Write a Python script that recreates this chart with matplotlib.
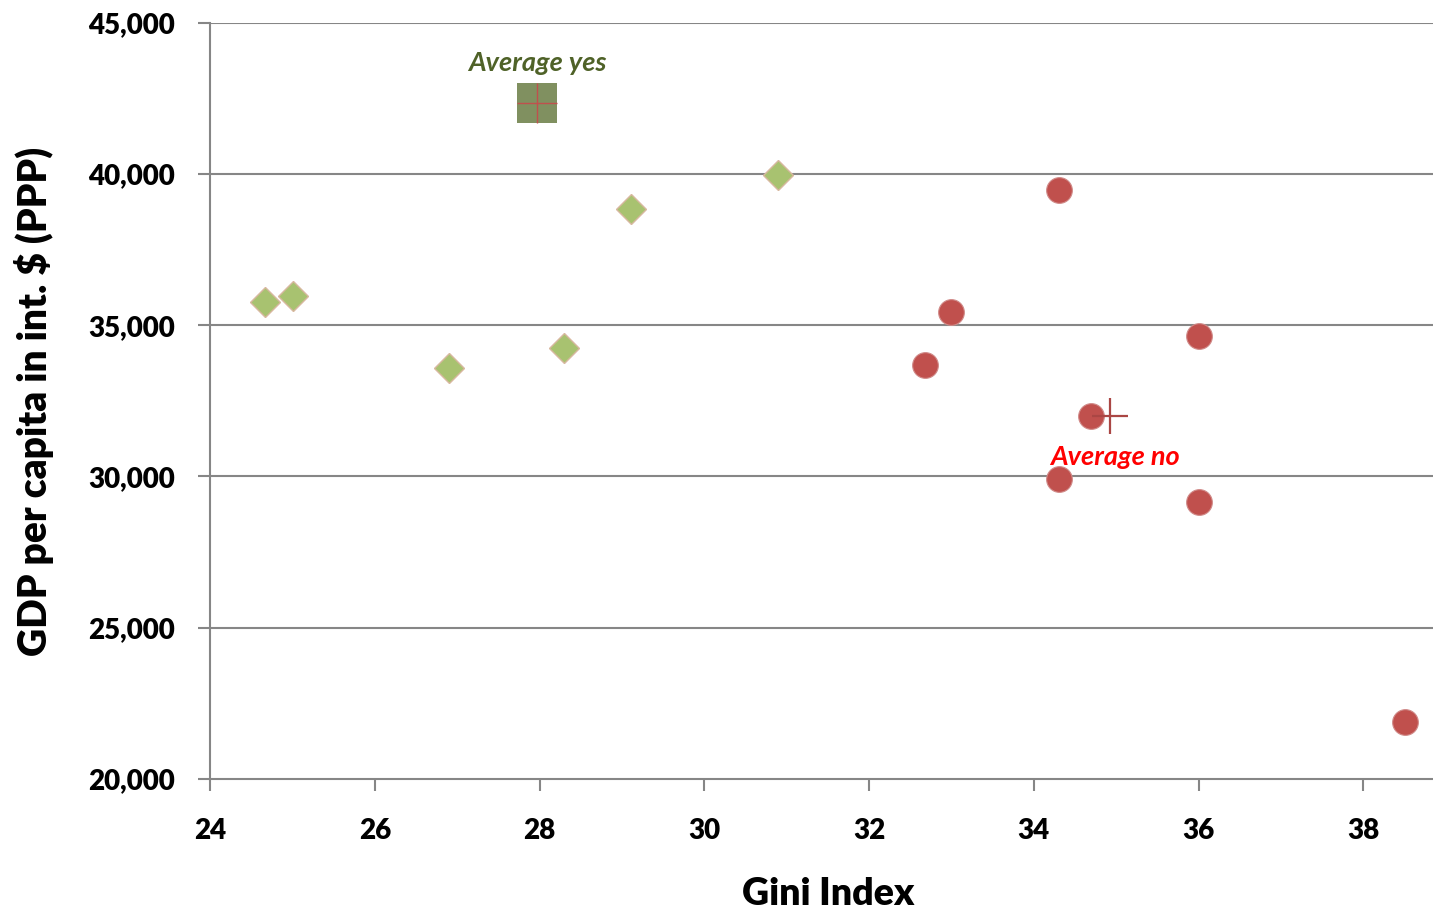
import matplotlib
matplotlib.use("Agg")
import matplotlib.pyplot as plt
from matplotlib.ticker import FuncFormatter

plt.rcParams['font.family'] = ['Lato', 'DejaVu Sans']

# countries that said "yes" (green diamonds)
yes_gini = [24.67, 25.01, 26.90, 28.30, 29.11, 30.90]
yes_gdp = [35780, 35970, 33580, 34240, 38830, 39960]

# countries that said "no" (red circles)
no_gini = [32.68, 32.99, 34.31, 34.31, 34.70, 36.00, 36.00, 38.51]
no_gdp = [33680, 35450, 39470, 29920, 32000, 34640, 29150, 21870]

avg_yes = (27.97, 42350)
avg_no = (34.93, 32000)

yticks = [20000, 25000, 30000, 35000, 40000, 45000]
xticks = [24, 26, 28, 30, 32, 34, 36, 38]

grey = '#868686'

fig = plt.figure(figsize=(14.33, 9.14), dpi=100)
ax = fig.add_axes([0.1466, 0.1477, 0.8534, 0.8275])

for y in yticks[1:]:
    ax.axhline(y, color=grey, lw=1.5, zorder=1)

ax.plot(yes_gini, yes_gdp, linestyle='none', marker='D', ms=15.5,
        mfc='#A8C270', mec='#D8B8A0', mew=1, zorder=3)
ax.plot(no_gini, no_gdp, linestyle='none', marker='o', ms=18.5,
        mfc='#C0504D', mec='#D08A88', mew=0.8, zorder=3)

# average yes: olive square with thin red cross
ax.plot(*avg_yes, marker='s', ms=29.5, mfc='#809060', mec='#809060', mew=0, zorder=4)
ax.plot(*avg_yes, marker='+', ms=29.5, mec='#C0504D', mew=1, zorder=5)
ax.text(avg_yes[0], avg_yes[1] + 1330, 'Average yes', color='#4F6228', fontsize=19.5,
        fontweight='bold', fontstyle='italic', ha='center', va='center', zorder=6)

# average no: red cross
ax.plot(*avg_no, marker='+', ms=26, mec='#AA4644', mew=1.6, zorder=5)
ax.text(avg_no[0] + 0.06, avg_no[1] - 1350, 'Average no', color='#FF0000', fontsize=19.5,
        fontweight='bold', fontstyle='italic', ha='center', va='center', zorder=6)

ax.set_xlim(24, 38.846)
ax.set_ylim(20000, 45000)
ax.set_xticks(xticks)
ax.set_yticks(yticks)
ax.yaxis.set_major_formatter(FuncFormatter(lambda v, p: f"{v:,.0f}"))

for s in ['top', 'right']:
    ax.spines[s].set_visible(False)
for s in ['left', 'bottom']:
    ax.spines[s].set_color(grey)
    ax.spines[s].set_linewidth(1.5)

ax.tick_params(axis='both', direction='out', length=8.5, width=1.5, color=grey,
               labelsize=20, labelcolor='black')
ax.tick_params(axis='y', pad=17)
ax.tick_params(axis='x', pad=19.5)
for lab in ax.get_xticklabels() + ax.get_yticklabels():
    lab.set_fontweight('heavy')

fig.text(0.578, 0.022, 'Gini Index', fontsize=27, fontweight='heavy',
         ha='center', va='center')
fig.text(0.024, 0.561, 'GDP per capita in int. $ (PPP)', fontsize=28, fontweight='heavy',
         ha='center', va='center', rotation=90)

fig.savefig('out.png', dpi=100)
